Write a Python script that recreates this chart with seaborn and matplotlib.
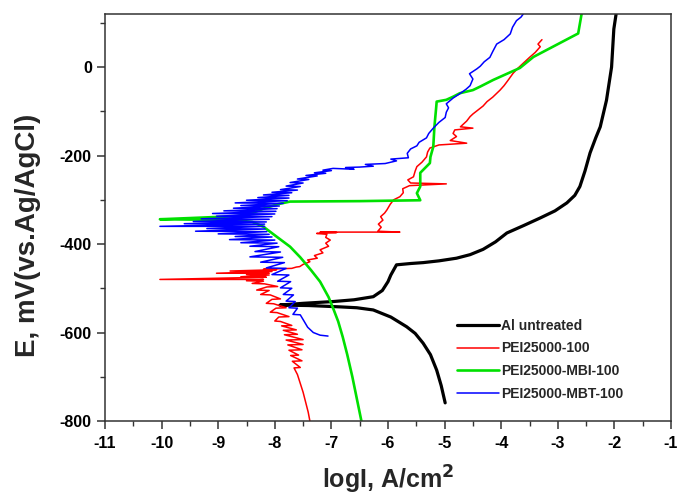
import matplotlib
matplotlib.use("Agg")
import matplotlib.pyplot as plt
from matplotlib.ticker import MultipleLocator
import seaborn as sns
import pandas as pd

# ---- data (logI, E in mV) ----
al_logI = [-4.99, -5.06, -5.14, -5.25, -5.38, -5.52, -5.67, -5.95, -6.26, -6.55, -6.85, -7.4, -7.91,
           -7.5, -6.97, -6.6, -6.26, -6.1, -6.0, -5.95, -5.85, -5.6, -5.38, -5.1, -4.79, -4.55, -4.32,
           -4.1, -3.90, -3.6, -3.31, -3.05, -2.84, -2.7, -2.61, -2.52, -2.43, -2.33, -2.25, -2.14,
           -2.05, -2.01, -1.97]
al_E = [-759, -720, -685, -650, -624, -602, -587, -565, -549, -544, -542, -539, -538,
        -534, -530, -526, -519, -505, -485, -470, -447, -444, -442, -438, -432, -424, -412,
        -395, -375, -358, -341, -325, -307, -290, -270, -235, -194, -160, -135, -75,
        0, 86, 120]

pei_logI = [-7.38, -7.41, -7.45, -7.5, -7.55, -7.6,
            -7.66, -7.55, -7.69, -7.52, -7.72, -7.58, -7.75, -7.52, -7.77, -7.5, -7.8, -7.5,
            -7.83, -7.6, -7.85, -7.62, -7.88, -7.7, -7.9, -8.0, -7.93, -7.75, -7.96, -8.08,
            -7.98, -7.8, -8.02, -8.15, -8.05, -7.9, -8.08, -8.25, -8.1, -8.32, -8.14, -7.95,
            -8.18, -8.4, -8.2, -8.5, -8.2, -10.03, -8.15, -8.6, -8.1, -8.5, -8.1, -9.03,
            -8.05, -8.79, -7.97, -8.2,
            -7.7, -7.62, -7.56, -7.5, -7.38, -7.42, -7.25, -7.3, -7.15, -7.2, -7.05, -7.1,
            -7.02, -7.1, -7.08, -7.26, -6.91, -7.2, -5.79, -6.18, -6.12, -6.17, -6.09, -6.13,
            -6.06, -6.02, -5.96, -5.9, -5.79, -5.73, -5.74, -5.62, -4.97, -5.6, -5.65, -5.55,
            -5.52, -5.49, -5.4, -5.32, -5.3, -5.26, -5.1, -4.61, -4.9, -4.79, -4.85, -4.82,
            -4.5, -4.72, -4.61, -4.55, -4.5, -4.41, -4.32, -4.25, -4.15, -4.02, -3.95, -3.88,
            -3.79, -3.7, -3.6, -3.49, -3.4, -3.31, -3.35, -3.28]
pei_E = [-800, -780, -760, -735, -715, -695,
         -680, -679, -665, -664, -652, -651, -640, -639, -628, -627, -617, -616,
         -605, -604, -595, -594, -585, -584, -575, -574, -565, -564, -555, -554,
         -545, -544, -535, -534, -525, -524, -515, -514, -505, -504, -497, -496,
         -490, -489, -484, -483, -480, -480, -475, -474, -470, -469, -466, -466,
         -462, -461, -458, -457,
         -455, -452, -451, -446, -440, -436, -432, -426, -420, -413, -405, -398,
         -391, -385, -378, -376, -374, -373, -373, -371, -362, -355, -346, -338,
         -330, -323, -310, -300, -293, -284, -275, -268, -264, -262, -255, -248,
         -235, -225, -215, -203, -192, -183, -176, -172, -166, -157, -150, -142,
         -138, -135, -122, -112, -106, -97, -88, -78, -68, -52, -42, -30,
         -14, -2, 10, 23, 33, 46, 52, 62]

mbi_logI = [-6.47, -6.55, -6.63, -6.72, -6.8, -6.88, -6.97, -7.05, -7.2, -7.36, -7.55, -7.73,
            -7.95, -8.2, -8.4, -8.7, -9.2, -10.03, -8.67, -8.4, -8.2, -7.95, -7.73, -6.5,
            -5.43, -5.49, -5.43, -5.43, -5.26, -5.25, -5.2, -5.18, -5.15, -5.14, -4.97, -4.85,
            -4.73, -4.5, -4.37, -4.14, -3.67, -3.43, -2.64, -2.58]
mbi_E = [-800, -750, -700, -650, -610, -575, -545, -520, -485, -459, -430, -406,
         -385, -361, -350, -346, -345, -344, -337, -330, -320, -310, -304, -303,
         -301, -285, -270, -239, -217, -203, -180, -135, -93, -78, -74, -67,
         -59, -52, -44, -29, -2, 23, 76, 120]

mbt_logI = [-7.06, -7.2, -7.32, -7.42, -7.48,
            -7.55, -7.68, -7.6, -7.75, -7.64, -7.8, -7.67, -7.85, -7.7, -7.9, -7.72, -7.95,
            -7.75, -8.05, -7.8, -8.15, -7.83, -8.25, -7.86, -8.44, -7.9, -8.35, -7.93, -8.44,
            -7.96, -8.6, -8.0, -8.8, -8.05, -8.7, -8.1, -9.0, -8.14, -9.4, -8.17, -9.2,
            -8.18, -10.03, -8.18, -9.6, -8.15, -9.44, -8.1, -9.3, -8.05, -9.03, -8.0, -9.1,
            -7.98, -8.9, -7.96, -8.73, -7.92, -8.6, -7.85, -8.7, -7.78, -8.5, -7.75, -8.3,
            -7.75, -8.2, -7.7, -8.05, -7.6, -7.9, -7.55, -7.8, -7.5, -7.73, -7.4, -7.6,
            -7.25, -7.45, -7.1, -7.3, -7.0, -7.15,
            -6.97, -6.6, -6.75, -6.5, -6.26, -6.4, -6.05, -5.85, -5.95, -5.64, -5.66, -5.6,
            -5.49, -5.45, -5.32, -5.28, -5.2, -5.1, -4.99, -4.97, -4.93, -4.97, -4.85, -4.73,
            -4.62, -4.55, -4.5, -4.56, -4.43, -4.37, -4.3, -4.2, -4.15, -4.08, -3.95, -3.84,
            -3.8, -3.73, -3.65, -3.61]
mbt_E = [-608, -606, -600, -588, -575,
         -560, -559, -545, -544, -530, -529, -515, -514, -500, -499, -485, -484,
         -470, -469, -455, -454, -442, -441, -430, -429, -418, -417, -406, -405,
         -398, -397, -391, -390, -384, -383, -378, -377, -372, -371, -366, -365,
         -360, -360, -355, -354, -350, -349, -344, -343, -338, -337, -332, -331,
         -326, -325, -320, -319, -314, -313, -308, -307, -302, -301, -296, -295,
         -290, -289, -284, -283, -278, -277, -270, -269, -262, -261, -254, -253,
         -246, -245, -240, -239, -234, -233,
         -229, -231, -227, -226, -224, -220, -218, -212, -208, -205, -195, -185,
         -178, -170, -160, -150, -138, -125, -114, -102, -92, -83, -70, -60,
         -50, -42, -27, -15, -4, 2, 12, 22, 35, 52, 62, 75,
         90, 105, 113, 120]

labels = ["Al untreated", "PEI25000-100", "PEI25000-MBI-100", "PEI25000-MBT-100"]
xticks = [-11, -10, -9, -8, -7, -6, -5, -4, -3, -2, -1]
xtick_labels = ["-11", "-10", "-9", "-8", "-7", "-6", "-5", "-4", "-3", "-2", "-1"]
yticks = [-800, -600, -400, -200, 0]
ytick_labels = ["-800", "-600", "-400", "-200", "0"]

sns.set_theme(style="ticks")
plt.rcParams["font.family"] = ["Liberation Sans", "DejaVu Sans"]
plt.rcParams["font.weight"] = "bold"
plt.rcParams["axes.unicode_minus"] = False

fig = plt.figure(figsize=(6.77, 4.99), dpi=100)
ax = fig.add_axes([105 / 677, 1 - 421 / 499, 566 / 677, 407 / 499])

series = [
    (al_logI, al_E, "black", 2.3),
    (pei_logI, pei_E, "#ff0000", 1.1),
    (mbi_logI, mbi_E, "#00e000", 1.9),
    (mbt_logI, mbt_E, "#0000ff", 1.1),
]
for (xs, ys, col, lw), lab in zip(series, labels):
    df = pd.DataFrame({"logI": xs, "E": ys})
    sns.lineplot(data=df, x="logI", y="E", sort=False, estimator=None, color=col,
                 linewidth=lw, label=lab, ax=ax)

ax.set_xlim(-11, -1)
ax.set_ylim(-800, 120)
ax.xaxis.set_minor_locator(MultipleLocator(0.5))
ax.yaxis.set_minor_locator(MultipleLocator(100))
ax.tick_params(axis="both", which="major", direction="out", length=6, width=1.1,
               color="#333333", labelcolor="black")
ax.tick_params(axis="x", which="major", pad=5)
ax.tick_params(axis="y", which="major", pad=3.5)
ax.tick_params(axis="both", which="minor", direction="out", length=3.5, width=1.0, color="#333333")
ax.set_xticks(xticks)
ax.set_xticklabels(xtick_labels, fontweight="bold", fontsize=11.5)
ax.set_yticks(yticks)
ax.set_yticklabels(ytick_labels, fontweight="bold", fontsize=11.5)
for sp in ax.spines.values():
    sp.set_visible(True)
    sp.set_color("#333333")
    sp.set_linewidth(1.1)

ax.set_xlabel("logI, A/cm$^\\mathbf{2}$", fontsize=18, fontweight="bold", labelpad=9)
ax.set_ylabel("E, mV(vs.Ag/AgCl)", fontsize=20, fontweight="bold")
ax.yaxis.set_label_coords(-0.113, 0.457)

leg = ax.legend(loc="upper left", bbox_to_anchor=(0.622, 0.251), frameon=False,
                fontsize=10, handlelength=3.0, handletextpad=0.2, labelspacing=0.62,
                borderpad=0, borderaxespad=0)
for t in leg.get_texts():
    t.set_fontweight("bold")

fig.savefig("out.png", dpi=100)
